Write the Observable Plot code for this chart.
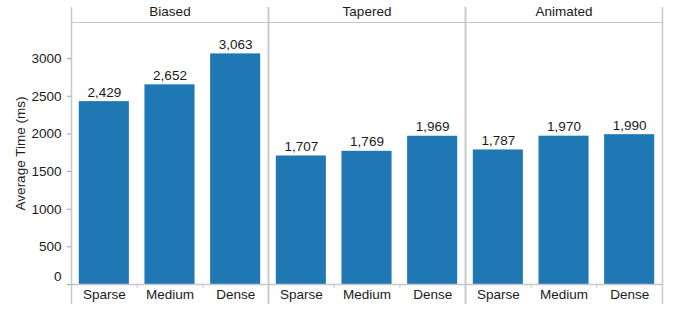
<!DOCTYPE html>
<html>
<head>
<meta charset="utf-8">
<script src="https://cdn.jsdelivr.net/npm/d3@7"></script>
<script src="https://cdn.jsdelivr.net/npm/@observablehq/plot@0.6"></script>
<style>
  html, body { margin: 0; padding: 0; background: #fff; }
  #chart svg { display: block; }
</style>
</head>
<body>
<div id="chart"></div>
<script>
const groups = ["Biased", "Tapered", "Animated"];
const densities = ["Sparse", "Medium", "Dense"];
const biased = [2429, 2652, 3063];
const tapered = [1707, 1769, 1969];
const animated = [1787, 1970, 1990];
const yTicks = [500, 1000, 1500, 2000, 2500, 3000];
const yMax = 3480;
const yTitle = "Average Time (ms)";

const series = [biased, tapered, animated];
const data = [];
groups.forEach((g, gi) => {
  densities.forEach((d, i) => {
    data.push({group: g, density: d, i, value: series[gi][i]});
  });
});

const fmt = d3.format(",");
const lineColor = "#c8c8c8";
const tickColor = "#a0a0a0";
const textColor = "#1a1a1a";

const chart = Plot.plot({
  width: 674,
  height: 311,
  marginLeft: 71,
  marginRight: 12,
  marginTop: 22,
  marginBottom: 27,
  style: {fontFamily: "'Liberation Sans', Arial, sans-serif", fontSize: "13px", color: textColor, background: "#fff"},
  fx: {domain: groups, padding: 0},
  x: {domain: [0, 3]},
  y: {domain: [0, yMax]},
  marks: [
    Plot.rectY(data, {
      fx: "group",
      x1: "i",
      x2: d => d.i + 1,
      y: "value",
      fill: "#1f77b4",
      insetLeft: 7.8,
      insetRight: 7.8
    }),
    Plot.text(data, {
      fx: "group",
      x: d => d.i + 0.5,
      y: "value",
      text: d => fmt(d.value),
      lineAnchor: "bottom",
      dy: -5,
      fontSize: 13.5,
      fill: textColor
    }),
    Plot.ruleY([0], {stroke: lineColor, strokeWidth: 1.5}),
    Plot.ruleY([yMax], {stroke: lineColor}),
    Plot.ruleX([0, 3], {stroke: lineColor, strokeWidth: 1.5, insetTop: -15, insetBottom: -20}),
    Plot.axisX({ticks: [1, 2], tickSize: 4, stroke: lineColor, tickFormat: () => "", label: null}),
    Plot.axisX({
      ticks: [0.5, 1.5, 2.5],
      tickSize: 0,
      tickPadding: 5,
      fontSize: 13.5,
      fill: textColor,
      tickFormat: d => densities[Math.floor(d)],
      label: null
    }),
    Plot.axisY({
      ticks: yTicks,
      tickSize: 4,
      tickPadding: 6,
      stroke: tickColor,
      fontSize: 13.5,
      fill: textColor,
      tickFormat: d => String(d),
      label: yTitle,
      labelAnchor: "center",
      labelArrow: "none",
      labelOffset: 56
    }),
    Plot.axisY({ticks: [0], tickSize: 4, stroke: tickColor, tickFormat: () => "", label: null}),
    Plot.axisY({ticks: [0], tickSize: 0, tickPadding: 10, dy: -8, fontSize: 13.5, fill: textColor, tickFormat: d => String(d), label: null}),
    Plot.axisFx({anchor: "top", tickSize: 0, tickPadding: 7, fontSize: 13.5, fill: textColor, label: null})
  ]
});
document.getElementById("chart").appendChild(chart);
</script>
</body>
</html>
